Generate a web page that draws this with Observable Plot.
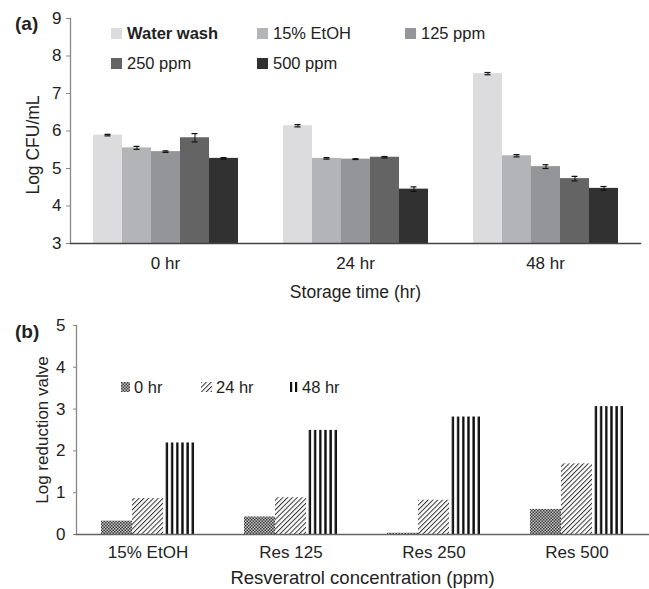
<!DOCTYPE html>
<html>
<head>
<meta charset="utf-8">
<script src="https://cdn.jsdelivr.net/npm/d3@7"></script>
<script src="https://cdn.jsdelivr.net/npm/@observablehq/plot@0.6"></script>
<style>
  body { margin: 0; background: #fff; }
  #wrap { position: relative; width: 649px; height: 589px; font-family: "Liberation Sans", Arial, sans-serif; color: #222; overflow: hidden; }
  .panel { position: absolute; left: 0; }
  .plabel { position: absolute; font-weight: bold; font-size: 19px; line-height: 1; }
  .leg { position: absolute; display: flex; align-items: center; font-size: 16.5px; line-height: 1; white-space: nowrap; }
  .leg .sw { display: inline-block; margin-right: 5px; }
</style>
</head>
<body>
<div id="wrap">
  <svg width="0" height="0" style="position:absolute">
    <defs>
      <pattern id="pat0" patternUnits="userSpaceOnUse" width="3" height="3">
        <rect width="3" height="3" fill="#c4c4c4"></rect>
        <rect x="0" y="0" width="1.5" height="1.5" fill="#3a3a3a"></rect>
        <rect x="1.5" y="1.5" width="1.5" height="1.5" fill="#3a3a3a"></rect>
      </pattern>
      <pattern id="pat24" patternUnits="userSpaceOnUse" width="3.4" height="3.4" patternTransform="rotate(45)">
        <rect width="3.4" height="3.4" fill="#fff"></rect>
        <line x1="0.5" y1="0" x2="0.5" y2="3.4" stroke="#333" stroke-width="1"></line>
      </pattern>
      <pattern id="pat48" patternUnits="objectBoundingBox" patternContentUnits="objectBoundingBox" x="0" y="0" width="0.1667" height="1">
        <rect x="0" y="0" width="0.1667" height="1" fill="#fff"></rect>
        <rect x="0.09" y="0" width="0.077" height="1" fill="#111"></rect>
      </pattern>
      <pattern id="pat48s" patternUnits="userSpaceOnUse" width="5" height="10">
        <rect width="5" height="10" fill="#fff"></rect>
        <rect x="1" y="0" width="2.2" height="10" fill="#111"></rect>
      </pattern>
    </defs>
  </svg>
  <div id="chartA" class="panel" style="top:0"></div>
  <div id="chartB" class="panel" style="top:300px"></div>
  <div class="plabel" style="left:15px;top:14px">(a)</div>
  <div class="plabel" style="left:15px;top:322px">(b)</div>
  <div id="legA"></div>
  <div id="legB"></div>
</div>
<script>
// ---------- Data: panel (a) ----------
const timesA = ["0 hr", "24 hr", "48 hr"];
const treatmentsA = ["Water wash", "15% EtOH", "125 ppm", "250 ppm", "500 ppm"];
const greysA = ["#dcdcde", "#b3b4b7", "#949598", "#646465", "#323132"];
const meansA = [
  [5.89, 5.55, 5.45, 5.82, 5.27],
  [6.14, 5.27, 5.25, 5.30, 4.45],
  [7.53, 5.34, 5.05, 4.73, 4.47]
];
const errorsA = [
  [0.02, 0.04, 0.02, 0.11, 0.02],
  [0.03, 0.02, 0.01, 0.02, 0.06],
  [0.03, 0.03, 0.05, 0.06, 0.05]
];
const yDomainA = [3, 9];
const yTicksA = [3, 4, 5, 6, 7, 8, 9];
const yTitleA = "Log CFU/mL";
const xTitleA = "Storage time (hr)";

// ---------- Data: panel (b) ----------
const concB = ["15% EtOH", "Res 125", "Res 250", "Res 500"];
const timesB = ["0 hr", "24 hr", "48 hr"];
const patternsB = ["url(#pat0)", "url(#pat24)", "url(#pat48)"];
const swatchPatternsB = ["url(#pat0)", "url(#pat24)", "url(#pat48s)"];
const reductionB = [
  [0.32, 0.86, 2.19],
  [0.42, 0.88, 2.49],
  [0.03, 0.82, 2.81],
  [0.60, 1.69, 3.06]
];
const yDomainB = [0, 5];
const yTicksB = [0, 1, 2, 3, 4, 5];
const yTitleB = "Log reduction valve";
const xTitleB = "Resveratrol concentration (ppm)";

const FONT = '"Liberation Sans", Arial, sans-serif';

// ---------- Build rows ----------
const rowsA = [];
timesA.forEach((t, i) => treatmentsA.forEach((s, j) => rowsA.push({time: t, treatment: s, mean: meansA[i][j], err: errorsA[i][j]})));
const rowsB = [];
concB.forEach((c, i) => timesB.forEach((t, j) => rowsB.push({conc: c, time: t, value: reductionB[i][j]})));

// ---------- Chart (a) ----------
const chartA = Plot.plot({
  width: 649, height: 300,
  marginLeft: 69, marginRight: 8, marginTop: 18, marginBottom: 57,
  style: {fontFamily: FONT, fontSize: "17px", color: "#222", background: "transparent", overflow: "visible"},
  fx: {domain: timesA, padding: 0, label: null},
  x: {domain: treatmentsA, paddingInner: 0, paddingOuter: 0.754, axis: null},
  y: {domain: yDomainA, axis: null},
  color: {domain: treatmentsA, range: greysA},
  marks: [
    Plot.barY(rowsA, {fx: "time", x: "treatment", y1: yDomainA[0], y2: "mean", fill: "treatment"}),
    Plot.ruleX(rowsA, {fx: "time", x: "treatment", y1: d => d.mean - d.err, y2: d => d.mean + d.err, stroke: "#111", strokeWidth: 1}),
    Plot.tickY(rowsA, {fx: "time", x: "treatment", y: d => d.mean + d.err, insetLeft: 11.5, insetRight: 11.5, stroke: "#111", strokeWidth: 1.2}),
    Plot.tickY(rowsA, {fx: "time", x: "treatment", y: d => d.mean - d.err, insetLeft: 11.5, insetRight: 11.5, stroke: "#111", strokeWidth: 1.2}),
    Plot.axisY({ticks: yTicksA, tickSize: 4, tickPadding: 5, stroke: "#888", fill: "#222", label: null, tickFormat: d => String(d)}),
    Plot.axisFx({anchor: "bottom", tickSize: 0, tickPadding: 13, label: null, fill: "#222"}),
    Plot.frame({anchor: "left", facet: "super", stroke: "#888", strokeWidth: 1.3}),
    Plot.frame({anchor: "bottom", facet: "super", stroke: "#444", strokeWidth: 1.5}),
    Plot.text([yTitleA], {frameAnchor: "left", textAnchor: "middle", lineAnchor: "middle", dx: -37, dy: 14, rotate: -90, facet: "super", fill: "#222", fontSize: 17.5}),
    Plot.text([xTitleA], {frameAnchor: "bottom", textAnchor: "middle", lineAnchor: "middle", dy: 49, facet: "super", fill: "#222", fontSize: 17.5})
  ]
});
document.getElementById("chartA").appendChild(chartA);

// ---------- Chart (b) ----------
const chartB = Plot.plot({
  width: 649, height: 289,
  marginLeft: 76, marginRight: 1, marginTop: 25, marginBottom: 55,
  style: {fontFamily: FONT, fontSize: "17px", color: "#222", background: "transparent", overflow: "visible"},
  fx: {domain: concB, padding: 0, label: null},
  x: {domain: timesB, paddingInner: 0, paddingOuter: 0.806, axis: null},
  y: {domain: yDomainB, axis: null},
  color: {domain: timesB, range: patternsB},
  marks: [
    Plot.barY(rowsB, {fx: "conc", x: "time", y1: yDomainB[0], y2: "value", fill: "time"}),
    Plot.axisY({ticks: yTicksB, tickSize: 3, tickPadding: 8, stroke: "#888", fill: "#222", label: null, tickFormat: d => String(d)}),
    Plot.axisFx({anchor: "bottom", tickSize: 0, tickPadding: 11, label: null, fill: "#222"}),
    Plot.frame({anchor: "left", facet: "super", stroke: "#888", strokeWidth: 1.3}),
    Plot.frame({anchor: "bottom", facet: "super", stroke: "#666", strokeWidth: 1.5}),
    Plot.text([yTitleB], {frameAnchor: "left", textAnchor: "middle", lineAnchor: "middle", dx: -34, dy: 0, rotate: -90, facet: "super", fill: "#222", fontSize: 17}),
    Plot.text([xTitleB], {frameAnchor: "bottom", textAnchor: "middle", lineAnchor: "middle", dy: 44, facet: "super", fill: "#222", fontSize: 18.5})
  ]
});
document.getElementById("chartB").appendChild(chartB);

// ---------- Legends ----------
const legPosA = [[111, 33], [257, 33], [405, 33], [111, 63], [257, 63]];
const legA = document.getElementById("legA");
treatmentsA.forEach((s, i) => {
  const d = document.createElement("div");
  d.className = "leg";
  d.style.left = legPosA[i][0] + "px";
  d.style.top = (legPosA[i][1] - 9) + "px";
  d.style.height = "18px";
  const sw = document.createElement("span");
  sw.className = "sw";
  sw.style.width = "11px"; sw.style.height = "11px";
  sw.style.background = greysA[i];
  d.appendChild(sw);
  const t = document.createElement("span");
  t.textContent = s;
  if (i === 0) t.style.fontWeight = "bold";
  d.appendChild(t);
  legA.appendChild(d);
});

const legPosB = [121, 201, 289];
const legB = document.getElementById("legB");
timesB.forEach((s, i) => {
  const d = document.createElement("div");
  d.className = "leg";
  d.style.left = legPosB[i] + "px";
  d.style.top = (387 - 9) + "px";
  d.style.height = "18px";
  const ns = "http://www.w3.org/2000/svg";
  const sv = document.createElementNS(ns, "svg");
  sv.setAttribute("width", i === 1 ? 11 : 9);
  sv.setAttribute("height", 10);
  sv.style.marginRight = "4px";
  const r = document.createElementNS(ns, "rect");
  r.setAttribute("width", i === 1 ? 11 : 9);
  r.setAttribute("height", 10);
  r.setAttribute("fill", swatchPatternsB[i]);
  sv.appendChild(r);
  d.appendChild(sv);
  const t = document.createElement("span");
  t.textContent = s;
  d.appendChild(t);
  legB.appendChild(d);
});
</script>
</body>
</html>
